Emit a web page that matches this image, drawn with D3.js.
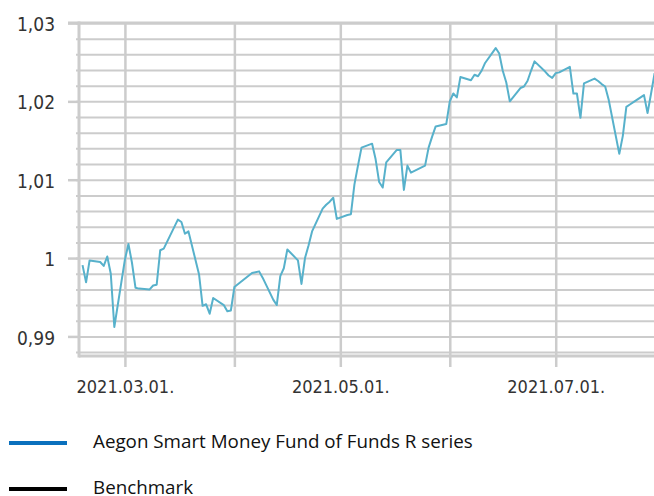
<!DOCTYPE html>
<html>
<head>
<meta charset="utf-8">
<script src="https://cdn.jsdelivr.net/npm/d3@7"></script>
<style>
  body { margin: 0; background: #fff; }
</style>
</head>
<body>
<div class="container"></div>
<script>
// fund performance
const dates = [
  "2021-02-17","2021-02-18","2021-02-19","2021-02-22","2021-02-23","2021-02-24","2021-02-25","2021-02-26",
  "2021-03-01","2021-03-02","2021-03-03","2021-03-04","2021-03-05","2021-03-08","2021-03-09","2021-03-10",
  "2021-03-11","2021-03-12","2021-03-16","2021-03-17","2021-03-18","2021-03-19","2021-03-22","2021-03-23",
  "2021-03-24","2021-03-25","2021-03-26","2021-03-29","2021-03-30","2021-03-31","2021-04-01","2021-04-06",
  "2021-04-07","2021-04-08","2021-04-09","2021-04-12","2021-04-13","2021-04-14","2021-04-15","2021-04-16",
  "2021-04-19","2021-04-20","2021-04-21","2021-04-22","2021-04-23","2021-04-26","2021-04-27","2021-04-28",
  "2021-04-29","2021-04-30","2021-05-03","2021-05-04","2021-05-05","2021-05-06","2021-05-07","2021-05-10",
  "2021-05-11","2021-05-12","2021-05-13","2021-05-14","2021-05-17","2021-05-18","2021-05-19","2021-05-20",
  "2021-05-21","2021-05-25","2021-05-26","2021-05-27","2021-05-28","2021-05-31","2021-06-01","2021-06-02",
  "2021-06-03","2021-06-04","2021-06-07","2021-06-08","2021-06-09","2021-06-10","2021-06-11","2021-06-14",
  "2021-06-15","2021-06-16","2021-06-17","2021-06-18","2021-06-21","2021-06-22","2021-06-23","2021-06-24",
  "2021-06-25","2021-06-28","2021-06-29","2021-06-30","2021-07-01","2021-07-02","2021-07-05","2021-07-06",
  "2021-07-07","2021-07-08","2021-07-09","2021-07-12","2021-07-13","2021-07-14","2021-07-15","2021-07-16",
  "2021-07-19","2021-07-20","2021-07-21","2021-07-22","2021-07-23","2021-07-26","2021-07-27","2021-07-28",
  "2021-07-29"
];
const fundValues = [
  0.9991, 0.9969, 0.9997, 0.9995, 0.9990, 1.0002, 0.9980, 0.9912,
  0.9998, 1.0018, 0.9994, 0.9962, 0.9961, 0.9960, 0.9965, 0.9966,
  1.0010, 1.0012, 1.0049, 1.0046, 1.0031, 1.0034, 0.9979, 0.9939,
  0.9941, 0.9929, 0.9949, 0.9940, 0.9932, 0.9933, 0.9963, 0.9981,
  0.9982, 0.9983, 0.9975, 0.9947, 0.9940, 0.9977, 0.9987, 1.0011,
  0.9997, 0.9967, 1.0000, 1.0016, 1.0034, 1.0063, 1.0068, 1.0072,
  1.0077, 1.0050, 1.0055, 1.0056, 1.0094, 1.0118, 1.0141, 1.0146,
  1.0126, 1.0097, 1.0090, 1.0122, 1.0138, 1.0138, 1.0087, 1.0118,
  1.0109, 1.0118, 1.0141, 1.0155, 1.0168, 1.0171, 1.0200, 1.0210,
  1.0205, 1.0231, 1.0227, 1.0234, 1.0232, 1.0239, 1.0249, 1.0268,
  1.0261, 1.0239, 1.0224, 1.0200, 1.0217, 1.0219, 1.0226, 1.0239,
  1.0251, 1.0238, 1.0233, 1.0230, 1.0236, 1.0237, 1.0244, 1.0210,
  1.0210, 1.0179, 1.0223, 1.0229, 1.0226, 1.0222, 1.0219, 1.0202,
  1.0133, 1.0156, 1.0193, 1.0196, 1.0199, 1.0208, 1.0185, 1.0210,
  1.0236
];

const xDomain = ["2021-02-16", "2021-07-29"];
const yDomain = [0.9875, 1.03];
const yMajorTicks = [0.99, 1, 1.01, 1.02, 1.03];
const monthTicks = ["2021-03-01","2021-04-01","2021-05-01","2021-06-01","2021-07-01"];
const labelledMonths = ["2021-03-01","2021-05-01","2021-07-01"];

const seriesNames = ["Aegon Smart Money Fund of Funds R series", "Benchmark"];
const seriesColors = ["#0a70bd", "#000000"];

const parse = d3.timeParse("%Y-%m-%d");
const data = dates.map((d, i) => ({ date: parse(d), value: fundValues[i] }));

const fullWidth = 654;
const fullHeight = 496;
const margin = { left: 79, top: 23, right: -0.6, bottom: 140 };
const plotRight = fullWidth - margin.right;
const plotBottom = fullHeight - margin.bottom;

const svg = d3.create("svg")
  .attr("width", fullWidth)
  .attr("height", fullHeight)
  .attr("viewBox", [0, 0, fullWidth, fullHeight])
  .style("display", "block");

const x = d3.scaleTime()
  .domain(xDomain.map(parse))
  .range([margin.left, plotRight]);

const y = d3.scaleLinear()
  .domain(yDomain)
  .range([plotBottom, margin.top]);

const gridColor = "#cccccc";
const textColor = "#333333";
const fontFamily = "'DejaVu Sans Condensed', 'DejaVu Sans', sans-serif";

// horizontal grid (minor every 0.002)
const yMinorTicks = d3.range(0.988, 1.0301, 0.002);
svg.append("g")
  .attr("transform", `translate(${margin.left},0)`)
  .call(d3.axisLeft(y).tickValues(yMinorTicks).tickSize(0).tickFormat(""))
  .call((g) => g.select(".domain").remove())
  .call((g) => g.selectAll(".tick line")
    .attr("x1", -3)
    .attr("x2", plotRight - margin.left)
    .attr("stroke", gridColor)
    .attr("stroke-width", 2));

// vertical month grid + ticks below the axis
svg.append("g")
  .attr("transform", `translate(0,${plotBottom})`)
  .call(d3.axisBottom(x)
    .tickValues(monthTicks.map(parse))
    .tickSize(11)
    .tickFormat((d) => labelledMonths.includes(d3.timeFormat("%Y-%m-%d")(d)) ? d3.timeFormat("%Y.%m.%d.")(d) : ""))
  .call((g) => g.select(".domain").remove())
  .call((g) => g.selectAll(".tick line")
    .attr("y1", -(plotBottom - margin.top))
    .attr("stroke", gridColor)
    .attr("stroke-width", 2.5))
  .call((g) => g.selectAll(".tick text")
    .attr("y", 24)
    .attr("dy", "0.71em")
    .attr("fill", textColor)
    .style("font-family", fontFamily)
    .style("font-size", "18px"));

// y major ticks and labels
const fmt = d3.formatLocale({ decimal: ",", thousands: " ", grouping: [3], currency: ["", ""] }).format(".2~f");
svg.append("g")
  .attr("transform", `translate(${margin.left},0)`)
  .call(d3.axisLeft(y).tickValues(yMajorTicks).tickSize(11).tickPadding(13).tickFormat(fmt))
  .call((g) => g.select(".domain").remove())
  .call((g) => g.selectAll(".tick line").attr("stroke", gridColor).attr("stroke-width", 2.5))
  .call((g) => g.selectAll(".tick text")
    .attr("fill", textColor)
    .attr("dy", "0.4em")
    .style("font-family", fontFamily)
    .style("font-size", "19px"));

// axis frame
svg.append("line")
  .attr("x1", margin.left).attr("x2", margin.left)
  .attr("y1", margin.top - 1.5).attr("y2", plotBottom + 1.5)
  .attr("stroke", gridColor).attr("stroke-width", 3);
svg.append("line")
  .attr("x1", margin.left).attr("x2", plotRight)
  .attr("y1", plotBottom).attr("y2", plotBottom)
  .attr("stroke", gridColor).attr("stroke-width", 3);
svg.append("line")
  .attr("x1", margin.left - 11).attr("x2", plotRight)
  .attr("y1", margin.top).attr("y2", margin.top)
  .attr("stroke", gridColor).attr("stroke-width", 3);

// fund line
const line = d3.line()
  .x((d) => x(d.date))
  .y((d) => y(d.value));

svg.append("path")
  .datum(data)
  .attr("fill", "none")
  .attr("stroke", "#57b1cb")
  .attr("stroke-width", 2)
  .attr("stroke-linejoin", "round")
  .attr("d", line);

// legend
const legend = svg.append("g")
  .selectAll("g")
  .data(seriesNames)
  .join("g")
  .attr("transform", (d, i) => `translate(0,${443 + i * 46})`);

legend.append("line")
  .attr("x1", 9).attr("x2", 67)
  .attr("stroke", (d, i) => seriesColors[i])
  .attr("stroke-width", 4);

legend.append("text")
  .attr("x", 93)
  .attr("y", 5)
  .attr("fill", "#111")
  .style("font-family", "'Open Sans', sans-serif")
  .style("font-size", "18.8px")
  .text((d) => d);

document.querySelector(".container").append(svg.node());
</script>
</body>
</html>
